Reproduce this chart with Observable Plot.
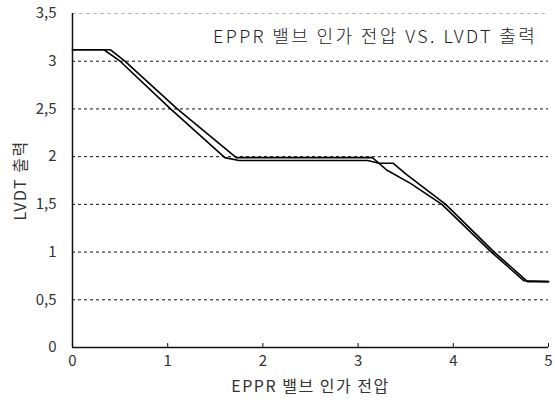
<!DOCTYPE html>
<html>
<head>
<meta charset="utf-8">
<script src="https://cdn.jsdelivr.net/npm/d3@7"></script>
<script src="https://cdn.jsdelivr.net/npm/@observablehq/plot@0.6"></script>
<style>
  html, body { margin: 0; padding: 0; background: #fff; }
  #chart { position: relative; width: 555px; height: 407px; }
  #title { position: absolute; left: 213px; top: 22px; font-family: "Noto Sans CJK KR", sans-serif; font-size: 18px; letter-spacing: 2.4px; color: #222; white-space: nowrap; font-weight: 300; }
  svg g[aria-label="x-axis label"] text, svg g[aria-label="y-axis label"] text { font-size: 16px; letter-spacing: 1.5px; }
</style>
</head>
<body>
<div id="chart"><div id="title">EPPR 밸브 인가 전압 VS. LVDT 출력</div></div>
<script>
// Curve 1 (outer, right branch)
const x1 = [0, 0.40, 0.55, 1.10, 1.72, 3.15, 3.22, 3.37, 3.50, 3.92, 4.43, 4.78, 5.0];
const y1 = [3.12, 3.12, 3.00, 2.50, 1.99, 1.99, 1.93, 1.93, 1.82, 1.50, 1.00, 0.69, 0.69];
// Curve 2 (inner, left branch)
const x2 = [0, 0.33, 0.50, 1.03, 1.60, 1.75, 3.10, 3.22, 3.30, 3.55, 3.88, 4.40, 4.74, 5.0];
const y2 = [3.12, 3.12, 3.00, 2.50, 1.99, 1.96, 1.96, 1.93, 1.86, 1.72, 1.50, 1.00, 0.70, 0.69];
const xTicks = [0, 1, 2, 3, 4, 5];
const yTicks = [0, 0.5, 1, 1.5, 2, 2.5, 3, 3.5];
const gridY = [0.5, 1, 1.5, 2, 2.5, 3];

const s1 = x1.map((x, i) => ({x, y: y1[i]}));
const s2 = x2.map((x, i) => ({x, y: y2[i]}));
const fmt = d => String(d).replace(".", ",");

const chart = Plot.plot({
  width: 555,
  height: 407,
  marginLeft: 72,
  marginRight: 7,
  marginTop: 13,
  marginBottom: 60,
  style: { fontFamily: "'Noto Sans CJK KR', sans-serif", fontSize: "14px", color: "#333", background: "#fff" },
  x: { domain: [0, 5] },
  y: { domain: [0, 3.5] },
  marks: [
    Plot.ruleY(gridY, { stroke: "#111", strokeWidth: 1, strokeDasharray: "3,3" }),
    Plot.ruleY([3.5], { stroke: "#bbb", strokeWidth: 1, strokeDasharray: "4,3" }),
    Plot.axisX({ ticks: xTicks, tickFormat: fmt, tickSize: 0, tickPadding: 8, label: "EPPR 밸브 인가 전압", labelAnchor: "center", labelArrow: "none", labelOffset: 44, fontSize: 15 }),
    Plot.axisX({ ticks: xTicks, tickSize: 4, dy: -4, text: null, label: null, stroke: "#111" }),
    Plot.axisY({ ticks: yTicks, tickFormat: fmt, tickSize: 0, tickPadding: 16, label: "LVDT 출력", labelAnchor: "center", labelArrow: "none", labelOffset: 58, fontSize: 15 }),
    Plot.ruleX([0], { stroke: "#111", strokeWidth: 1.5 }),
    Plot.ruleY([0], { stroke: "#111", strokeWidth: 1.5 }),
    Plot.line(s2, { x: "x", y: "y", stroke: "#000", strokeWidth: 1.6 }),
    Plot.line(s1, { x: "x", y: "y", stroke: "#000", strokeWidth: 1.6 })
  ]
});
document.getElementById("chart").appendChild(chart);
</script>
</body>
</html>
